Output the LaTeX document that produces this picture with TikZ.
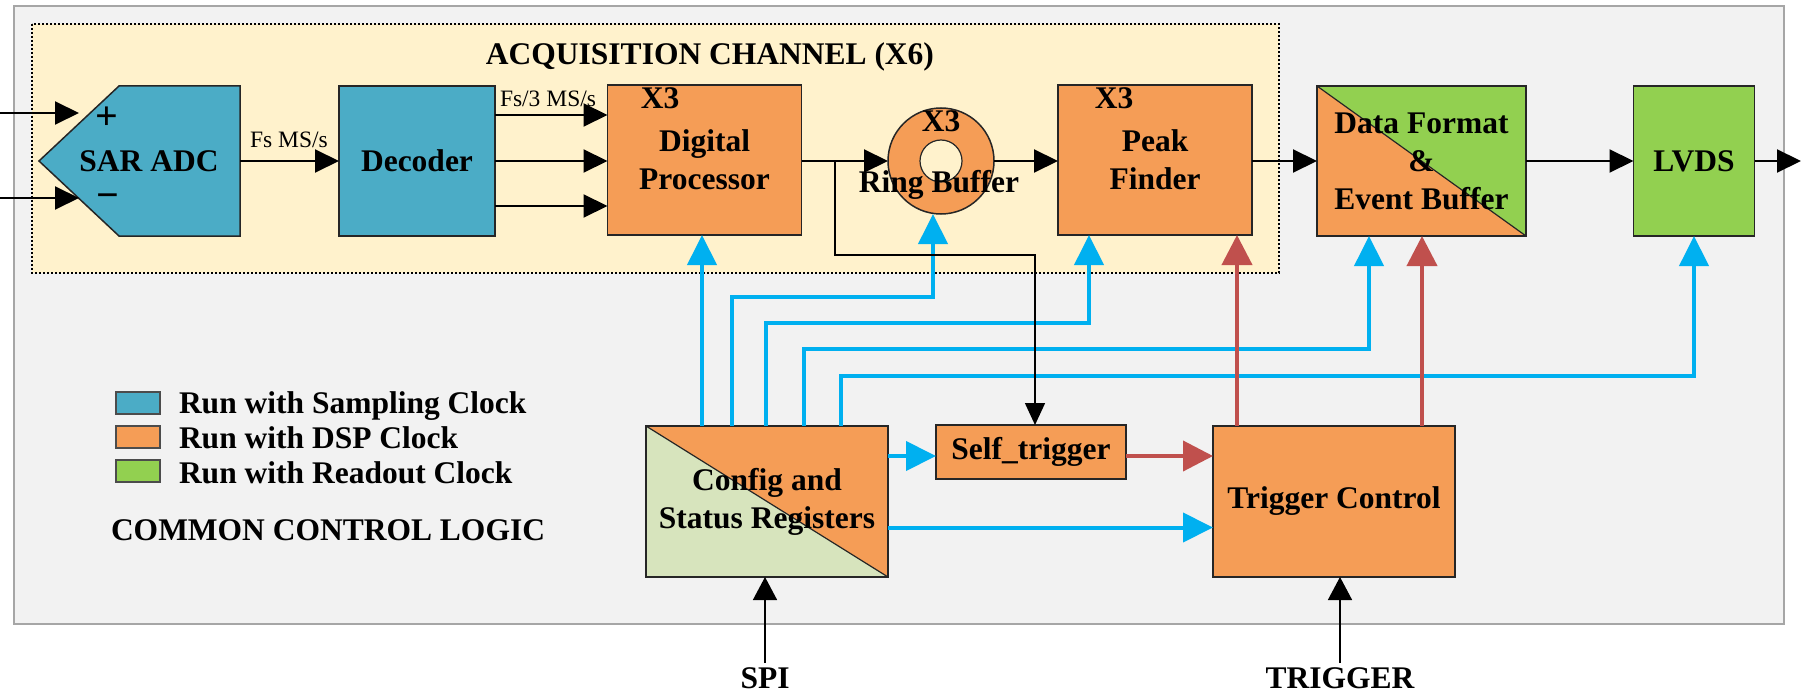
\documentclass[tikz,border=0pt]{standalone}
\usepackage{fontspec}
\setmainfont{Liberation Serif}
\usetikzlibrary{arrows.meta,calc}

\definecolor{sampblue}{HTML}{4BACC6}
\definecolor{dsporange}{HTML}{F59D56}
\definecolor{rdgreen}{HTML}{92D050}
\definecolor{cfggreen}{HTML}{D7E4BD}
\definecolor{ctlblue}{HTML}{00B0F0}
\definecolor{trgred}{HTML}{C0504D}
\definecolor{acqfill}{HTML}{FFF2CC}
\definecolor{panelfill}{HTML}{F2F2F2}
\definecolor{panelline}{HTML}{A6A6A6}

\newcommand\blkfont{\fontsize{31.5}{38}\selectfont\bfseries}
\newcommand\ratefont{\fontsize{23.5}{26}\selectfont}
\newcommand\signfont{\fontsize{40}{40}\selectfont\bfseries}

\tikzset{
  every node/.style={inner sep=0pt, outer sep=0pt},
  blk/.style 2 args={draw=black!85, line width=1.5pt, minimum width=#1, minimum height=#2,
    font=\blkfont, align=center},
  splitfill/.style={path picture={
    \fill[#1] (path picture bounding box.north west) -- (path picture bounding box.north east)
      -- (path picture bounding box.south east) -- cycle;
    \draw[line width=1.2pt] (path picture bounding box.north west) -- (path picture bounding box.south east);}},
  lbl/.style={font=\blkfont},
  rate/.style={font=\ratefont, anchor=base},
  swatch/.style={draw=black!70, line width=1.2pt, minimum width=44pt, minimum height=22pt},
  sig/.style={line width=2pt, -{Triangle[length=24pt,width=23pt]}},
  feed/.style={line width=1.5pt, -{Triangle[length=23pt,width=24pt]}},
  tap/.style={line width=1.5pt, -{Triangle[length=22pt,width=20pt]}},
  ctl/.style={draw=ctlblue, line width=4pt, -{Triangle[length=30pt,width=29pt]}},
  trg/.style={draw=trgred, line width=4pt, -{Triangle[length=30pt,width=30pt]}},
}

\begin{document}
\begin{tikzpicture}[x=1pt,y=-1pt]
\useasboundingbox (0,0) rectangle (1801,695);

% common control logic panel and acquisition channel frame
\draw[fill=panelfill, draw=panelline, line width=1.5pt] (14,6) rectangle (1784,624);
\draw[fill=acqfill, line width=2pt, dash pattern=on 2pt off 2pt] (32,24) rectangle (1279,273);
\node[lbl, anchor=base] (acqtitle) at (710,65) {ACQUISITION CHANNEL (X6)};

% SAR ADC body
\draw[fill=sampblue, draw=black!85, line width=1.5pt]
  (39,161) -- (119,86) -- (240,86) -- (240,236) -- (119,236) -- cycle;
\node[lbl] (sar) at (149,161) {SAR ADC};
\node[font=\signfont, anchor=base] (plus) at (107,130) {+};
\node[font=\signfont, anchor=base] (minus) at (108,208) {−};
\coordinate (sarout) at (240,161);

% acquisition chain blocks
\node[blk={156pt}{150pt}, fill=sampblue] (dec) at (417,161) {Decoder};
\node[blk={194pt}{150pt}, fill=dsporange] (dp) at (704.5,160) {Digital\\Processor};
\node[lbl, anchor=base] (dpx) at (660,109) {X3};

\node[circle, draw=black!85, line width=1.5pt, fill=dsporange, minimum size=106pt] (ring) at (941,161) {};
\node[circle, draw=black!85, line width=1.2pt, fill=acqfill, minimum size=42pt] (ringhole) at (941,161) {};
\node[lbl, anchor=base] (ringx) at (941,132) {X3};
\node[lbl, anchor=base] (ringlbl) at (939,193) {Ring Buffer};

\node[blk={194pt}{150pt}, fill=dsporange] (pf) at (1155,160) {Peak\\Finder};
\node[lbl, anchor=base] (pfx) at (1114,109) {X3};

\node[blk={209pt}{150pt}, fill=dsporange, splitfill=rdgreen] (df) at (1421.5,161) {Data Format\\\&\\Event Buffer};
\node[blk={121pt}{150pt}, fill=rdgreen] (lvds) at (1694,161) {LVDS};

% control blocks
\node[blk={242pt}{151pt}, fill=cfggreen, splitfill=dsporange] (cfg) at (767,501.5) {Config and\\Status Registers};
\node[blk={190pt}{54pt}, fill=dsporange] (st) at (1031,452) {Self\_trigger};
\node[blk={242pt}{151pt}, fill=dsporange] (tc) at (1334,501.5) {Trigger Control};

% legend
\node[swatch, fill=sampblue] (lgs) at (138,403) {};
\node[lbl, anchor=base west] (lgst) at (179,413) {Run with Sampling Clock};
\node[swatch, fill=dsporange] (lgd) at (138,437) {};
\node[lbl, anchor=base west] (lgdt) at (179,448) {Run with DSP Clock};
\node[swatch, fill=rdgreen] (lgr) at (138,471) {};
\node[lbl, anchor=base west] (lgrt) at (179,483) {Run with Readout Clock};
\node[lbl, anchor=base west] (ccl) at (111,540) {COMMON CONTROL LOGIC};

% data path
\coordinate (inPs) at (0,113);  \coordinate (inPe) at (79,113);
\coordinate (inNs) at (0,198);  \coordinate (inNe) at (79,198);
\draw[sig] (inPs) -- (inPe);
\draw[sig] (inNs) -- (inNe);
\draw[sig] (sarout) -- (dec.west);
\node[rate] (fsrate) at (289,148) {Fs MS/s};
\draw[sig] ([yshift=46pt]dec.east) -- ([yshift=46pt]dec.east -| dp.west);
\draw[sig] (dec.east) -- (dec.east -| dp.west);
\draw[sig] ([yshift=-45pt]dec.east) -- ([yshift=-45pt]dec.east -| dp.west);
\node[rate] (fs3rate) at (548,107) {Fs/3 MS/s};
\draw[sig] (dp.east |- ring.west) -- (ring.west);
\draw[sig] (ring.east) -- (ring.east -| pf.west);
\draw[sig] (pf.east |- df.west) -- (df.west);
\draw[sig] (df.east) -- (lvds.west);
\coordinate (dout) at (1801,161);
\draw[sig] (lvds.east) -- (dout);

% configuration lines
\coordinate (c1) at ([xshift=56pt]cfg.north west);
\coordinate (c2) at ([xshift=86pt]cfg.north west);
\coordinate (c3) at ([xshift=120pt]cfg.north west);
\coordinate (c4) at ([xshift=158pt]cfg.north west);
\coordinate (c5) at ([xshift=195pt]cfg.north west);
\coordinate (k2) at (933,297);
\coordinate (k3) at (1089,323);
\coordinate (k4) at (1369,349);
\coordinate (k5) at (1694,376);
\draw[ctl] (c1) -- (c1 |- dp.south);
\draw[ctl] (c2) |- (k2) -- (k2 |- ring.south);
\draw[ctl] (c3) |- (k3) -- (k3 |- pf.south);
\draw[ctl] (c4) |- (k4) -- (k4 |- df.south);
\draw[ctl] (c5) |- (k5) -- (k5 |- lvds.south);
\draw[ctl] ([yshift=-4pt]cfg.east |- st.west) -- ([yshift=-4pt]st.west);
\draw[ctl] ([yshift=-26pt]cfg.east) -- ([yshift=-26pt]cfg.east -| tc.west);

% trigger lines
\coordinate (t1) at ([xshift=24pt]tc.north west);
\coordinate (t2) at ([xshift=209pt]tc.north west);
\draw[trg] (t1) -- (t1 |- pf.south);
\draw[trg] (t2) -- (t2 |- df.south);
\draw[trg] ([yshift=-4pt]st.east) -- ([yshift=-4pt]st.east -| tc.west);

% self-trigger tap from the processed stream
\coordinate (tapsplit) at (835,161);
\coordinate (tapbend) at (835,255);
\coordinate (taptop) at ([xshift=4pt]st.north);
\draw[tap] (tapsplit) -- (tapbend) -| (taptop);

% external inputs
\node[lbl, anchor=base] (spi) at (765,688) {SPI};
\node[lbl, anchor=base] (trig) at (1340,688) {TRIGGER};
\draw[feed] ([yshift=4pt]spi.north) -- (spi.north |- cfg.south);
\draw[feed] ([yshift=4pt]trig.north) -- (trig.north |- tc.south);
\end{tikzpicture}
\end{document}
